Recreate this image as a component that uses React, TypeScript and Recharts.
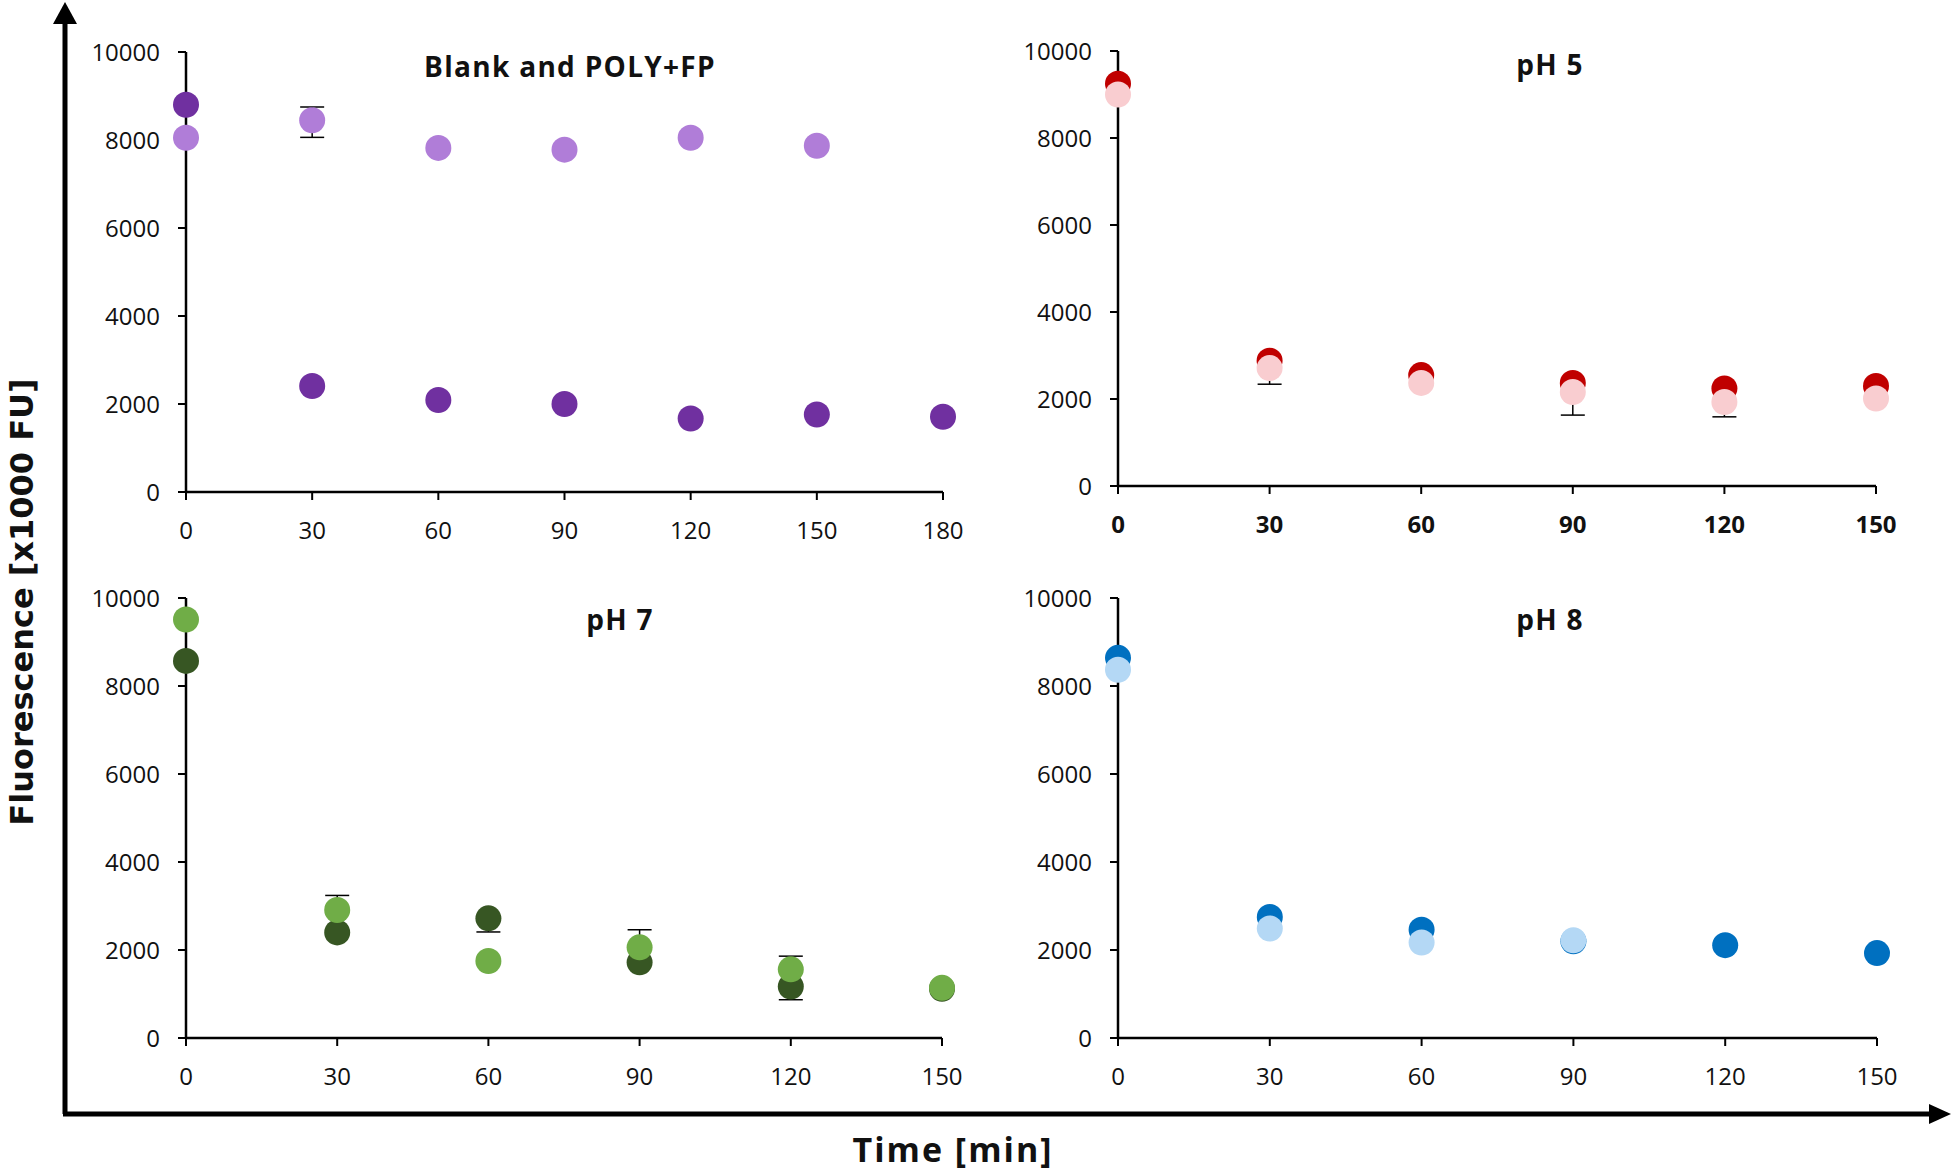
import React from "react";
import { ScatterChart, Scatter, XAxis, YAxis, ErrorBar } from "recharts";

// time points [min]
const times150 = [0, 30, 60, 90, 120, 150];
const times180 = [0, 30, 60, 90, 120, 150, 180];
const ticks150 = [0, 30, 60, 90, 120, 150];
const ticks180 = [0, 30, 60, 90, 120, 150, 180];
const yTicks = [0, 2000, 4000, 6000, 8000, 10000];

// Blank and POLY+FP
const polyFp = [8800, 2410, 2090, 2000, 1670, 1760, 1710];
const blank = [8050, 8450, 7820, 7780, 8050, 7870];
const blankErrDown = [0, 390, 0, 0, 0, 0];
const blankErrUp = [0, 300, 0, 0, 0, 0];

// pH 5
const ph5Dark = [9250, 2880, 2550, 2370, 2240, 2300];
const ph5Light = [9000, 2710, 2370, 2160, 1930, 2010];
const ph5LightErrDown = [0, 370, 0, 530, 340, 0];

// pH 7
const ph7Dark = [8570, 2400, 2720, 1720, 1170, 1120];
const ph7DarkErrDown = [0, 0, 310, 0, 300, 0];
const ph7Light = [9510, 2910, 1750, 2060, 1560, 1140];
const ph7LightErrUp = [0, 330, 0, 400, 300, 0];

// pH 8
const ph8Dark = [8640, 2750, 2460, 2200, 2110, 1930];
const ph8Light = [8370, 2490, 2170, 2220];

const toPoints = (xs: number[], ys: number[], down?: number[], up?: number[]) =>
  ys.map((y, i) => ({ x: xs[i], y, err: [down ? down[i] : 0, up ? up[i] : 0] }));

type Series = { name: string; color: string; data: { x: number; y: number; err: number[] }[] };

const dot = (p: any) => <circle cx={p.cx} cy={p.cy} r={13} fill={p.fill} />;

function Panel({
  x,
  y,
  w,
  h,
  xMax,
  xTicks,
  series,
  boldX,
}: {
  x: number;
  y: number;
  w: number;
  h: number;
  xMax: number;
  xTicks: number[];
  series: Series[];
  boldX?: boolean;
}) {
  const yAxisW = 120;
  const mTop = 30;
  const mRight = 40;
  const xAxisH = 70;
  const tickFont = { fill: "#111", fontSize: 24, fontFamily: "Open Sans" };
  return (
    <div style={{ position: "absolute", left: x - yAxisW, top: y - mTop }}>
      <ScatterChart
        width={yAxisW + w + mRight}
        height={mTop + h + xAxisH}
        margin={{ top: mTop, right: mRight, bottom: 0, left: 0 }}
      >
        <XAxis
          type="number"
          dataKey="x"
          domain={[0, xMax]}
          ticks={xTicks}
          height={xAxisH}
          tickSize={8}
          tickMargin={22}
          axisLine={{ stroke: "#000", strokeWidth: 2.5 }}
          tickLine={{ stroke: "#000", strokeWidth: 2 }}
          tick={{ ...tickFont, fontWeight: boldX ? 700 : 400 }}
          interval={0}
        />
        <YAxis
          type="number"
          dataKey="y"
          domain={[0, 10000]}
          ticks={yTicks}
          width={yAxisW}
          tickSize={8}
          tickMargin={18}
          axisLine={{ stroke: "#000", strokeWidth: 2.5 }}
          tickLine={{ stroke: "#000", strokeWidth: 2 }}
          tick={tickFont}
          interval={0}
        />
        {series.map((s) => (
          <Scatter
            key={s.name}
            name={s.name}
            data={s.data}
            fill={s.color}
            shape={dot}
            isAnimationActive={false}
          >
            <ErrorBar
              dataKey="err"
              direction="y"
              width={12}
              stroke="#000"
              strokeWidth={1.5}
              isAnimationActive={false}
            />
          </Scatter>
        ))}
      </ScatterChart>
    </div>
  );
}

export default function App() {
  const title = {
    fontFamily: "Open Sans",
    fontWeight: 700,
    fontSize: 28,
    letterSpacing: 1.3,
    fill: "#111",
    textAnchor: "middle" as const,
  };
  return (
    <div
      style={{
        position: "absolute",
        left: 0,
        top: 0,
        width: 1955,
        height: 1174,
        background: "#fff",
        overflow: "hidden",
      }}
    >
      <Panel
        x={186}
        y={52}
        w={757}
        h={440}
        xMax={180}
        xTicks={ticks180}
        series={[
          { name: "POLY+FP", color: "#7030A0", data: toPoints(times180, polyFp) },
          { name: "Blank", color: "#B07DD8", data: toPoints(times150, blank, blankErrDown, blankErrUp) },
        ]}
      />
      <Panel
        x={1118}
        y={51}
        w={758}
        h={435}
        xMax={150}
        xTicks={ticks150}
        boldX
        series={[
          { name: "pH 5 a", color: "#C00000", data: toPoints(times150, ph5Dark) },
          { name: "pH 5 b", color: "#F9CDD0", data: toPoints(times150, ph5Light, ph5LightErrDown) },
        ]}
      />
      <Panel
        x={186}
        y={598}
        w={756}
        h={440}
        xMax={150}
        xTicks={ticks150}
        series={[
          { name: "pH 7 a", color: "#375623", data: toPoints(times150, ph7Dark, ph7DarkErrDown) },
          { name: "pH 7 b", color: "#70AD47", data: toPoints(times150, ph7Light, undefined, ph7LightErrUp) },
        ]}
      />
      <Panel
        x={1118}
        y={598}
        w={759}
        h={440}
        xMax={150}
        xTicks={ticks150}
        series={[
          { name: "pH 8 a", color: "#0070C0", data: toPoints(times150, ph8Dark) },
          { name: "pH 8 b", color: "#B4D8F5", data: toPoints(times150, ph8Light) },
        ]}
      />
      <svg
        width={1955}
        height={1174}
        style={{ position: "absolute", left: 0, top: 0, pointerEvents: "none" }}
      >
        <line x1={65} y1={1114} x2={65} y2={18} stroke="#000" strokeWidth={5} />
        <polygon points="65,2 53,24 77,24" fill="#000" />
        <line x1={63} y1={1114} x2={1934} y2={1114} stroke="#000" strokeWidth={5} />
        <polygon points="1951,1114 1929,1104 1929,1124" fill="#000" />
        <text x={570} y={77} {...title}>Blank and POLY+FP</text>
        <text x={1550} y={75} {...title}>pH 5</text>
        <text x={620} y={630} {...title}>pH 7</text>
        <text x={1550} y={630} {...title}>pH 8</text>
        <text
          x={953}
          y={1162}
          textAnchor="middle"
          fontFamily="Open Sans"
          fontWeight={700}
          fontSize={34}
          letterSpacing={2}
          fill="#111"
        >
          Time [min]
        </text>
        <text
          transform="translate(33,602) rotate(-90)"
          textAnchor="middle"
          fontFamily="DejaVu Sans"
          fontWeight={700}
          fontSize={32}
          fill="#111"
        >
          Fluorescence [x1000 FU]
        </text>
      </svg>
    </div>
  );
}
